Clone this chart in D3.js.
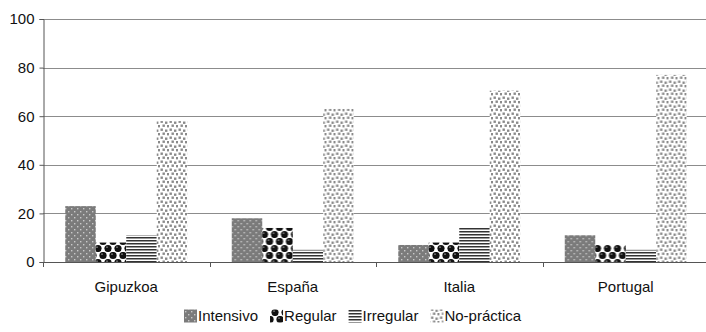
<!DOCTYPE html>
<html>
<head>
<meta charset="utf-8">
<script src="https://cdn.jsdelivr.net/npm/d3@7"></script>
<style>
  html, body { margin: 0; padding: 0; background: #fff; }
  svg { display: block; font-family: "Liberation Sans", Arial, sans-serif; }
</style>
</head>
<body>
<svg id="chart" width="706" height="332"></svg>
<script>
// Practice frequency (%) by region
const categories = ["Gipuzkoa", "España", "Italia", "Portugal"];
const seriesNames = ["Intensivo", "Regular", "Irregular", "No-práctica"];
const intensivo  = [23, 18, 7, 11];
const regular    = [8, 14, 8, 7];
const irregular  = [11, 5, 14, 5];
const noPractica = [58, 63, 70.5, 77];
const yTicks = [0, 20, 40, 60, 80, 100];

const seriesValues = [intensivo, regular, irregular, noPractica];

const W = 706, H = 332;
const margin = { left: 43, top: 19, bottom: 70 };
const plotRight = 709; // plot area runs slightly past the canvas edge
const plotBottom = H - margin.bottom; // 262

const svg = d3.select("#chart");

// ---- fill patterns ----
const defs = svg.append("defs");

// Intensivo: dark grey with light dots
const pInt = defs.append("pattern").attr("id", "pat0")
  .attr("patternUnits", "userSpaceOnUse").attr("width", 6).attr("height", 6);
pInt.append("rect").attr("width", 6).attr("height", 6).attr("fill", "#7b7b7b");
pInt.append("rect").attr("x", 1).attr("y", 1).attr("width", 1.4).attr("height", 1.4).attr("fill", "#c9c9c9");
pInt.append("rect").attr("x", 4).attr("y", 4).attr("width", 1.4).attr("height", 1.4).attr("fill", "#c9c9c9");

// Regular: black balls on white in a staggered grid
const pReg = defs.append("pattern").attr("id", "pat1")
  .attr("patternUnits", "userSpaceOnUse").attr("width", 10).attr("height", 14);
pReg.append("rect").attr("width", 10).attr("height", 14).attr("fill", "#fff");
[[0, 3.5], [10, 3.5], [5, 10.5]].forEach(([cx, cy]) => {
  pReg.append("circle").attr("cx", cx).attr("cy", cy).attr("r", 3.6).attr("fill", "#111");
  pReg.append("circle").attr("cx", cx - 1).attr("cy", cy - 1.3).attr("r", 0.9).attr("fill", "#777");
});

// Irregular: horizontal stripes
const pIrr = defs.append("pattern").attr("id", "pat2")
  .attr("patternUnits", "userSpaceOnUse").attr("width", 6).attr("height", 3);
pIrr.append("rect").attr("width", 6).attr("height", 3).attr("fill", "#fff");
pIrr.append("rect").attr("y", 0).attr("width", 6).attr("height", 1.5).attr("fill", "#333");

// No-práctica: scattered grey squares on white
const pNo = defs.append("pattern").attr("id", "pat3")
  .attr("patternUnits", "userSpaceOnUse").attr("width", 9).attr("height", 8);
pNo.append("rect").attr("width", 9).attr("height", 8).attr("fill", "#fff");
[[0.5, 0.5], [5, 1.5], [2.5, 4.5], [7, 5]].forEach(([x, y]) => {
  pNo.append("rect").attr("x", x).attr("y", y).attr("width", 2.4).attr("height", 2.4).attr("fill", "#8a8a8a");
});

const fills = seriesNames.map((_, i) => `url(#pat${i})`);

// ---- scales ----
const x0 = d3.scaleBand().domain(categories).range([margin.left, plotRight]).paddingInner(0).paddingOuter(0);
const x1 = d3.scaleBand().domain(seriesNames).range([0, x0.bandwidth()]).paddingInner(0).paddingOuter(0.73);
const y = d3.scaleLinear().domain([0, 100]).range([plotBottom, margin.top]);

// ---- gridlines ----
svg.append("g").selectAll("line").data(yTicks.filter(t => t > 0)).join("line")
  .attr("x1", margin.left).attr("x2", plotRight)
  .attr("y1", d => Math.round(y(d)) + 0.5).attr("y2", d => Math.round(y(d)) + 0.5)
  .attr("stroke", "#8c8c8c").attr("stroke-width", 1);

// ---- bars ----
const rows = categories.map((c, ci) => ({ cat: c, vals: seriesNames.map((s, si) => ({ s, si, v: seriesValues[si][ci] })) }));
svg.append("g").selectAll("g").data(rows).join("g")
  .attr("transform", d => `translate(${x0(d.cat)},0)`)
  .selectAll("rect").data(d => d.vals).join("rect")
  .attr("x", d => x1(d.s))
  .attr("width", x1.bandwidth())
  .attr("y", d => y(d.v))
  .attr("height", d => y(0) - y(d.v))
  .attr("fill", d => fills[d.si]);

// ---- axes ----
const yAxis = d3.axisLeft(y).tickValues(yTicks).tickSize(4).tickPadding(5).tickFormat(d3.format("d"));
const gy = svg.append("g").attr("transform", `translate(${margin.left + 0.5},0)`).call(yAxis);
gy.select(".domain").attr("stroke", "#555");
gy.selectAll(".tick line").attr("stroke", "#555");
gy.selectAll(".tick text").attr("font-size", 15).attr("fill", "#111")
  .attr("font-family", "Liberation Sans, Arial, sans-serif");

// x axis: boundary ticks between categories
const boundaries = categories.map(c => x0(c)).concat([plotRight]);
const gx = svg.append("g");
gx.append("line").attr("x1", margin.left).attr("x2", plotRight)
  .attr("y1", plotBottom + 0.5).attr("y2", plotBottom + 0.5).attr("stroke", "#555");
gx.selectAll("line.tk").data(boundaries).join("line").attr("class", "tk")
  .attr("x1", d => Math.round(d) + 0.5).attr("x2", d => Math.round(d) + 0.5)
  .attr("y1", plotBottom).attr("y2", plotBottom + 5).attr("stroke", "#555");
gx.selectAll("text").data(categories).join("text")
  .attr("x", d => x0(d) + x0.bandwidth() / 2)
  .attr("y", plotBottom + 30)
  .attr("text-anchor", "middle").attr("font-size", 15).attr("fill", "#111")
  .text(d => d);

// ---- legend ----
const lg = svg.append("g");
const sw = 13, gapText = 1, gapItem = 12, legendY = 316;
let cx = 0;
const items = seriesNames.map((s, i) => {
  const g = lg.append("g");
  g.append("rect").attr("x", 0).attr("y", -sw / 2).attr("width", sw).attr("height", sw).attr("fill", fills[i]);
  const t = g.append("text").attr("x", sw + gapText).attr("y", 0).attr("dy", "0.35em")
    .attr("font-size", 15).attr("fill", "#111").text(s);
  const w = sw + gapText + t.node().getComputedTextLength();
  g.attr("transform", `translate(${cx},${legendY})`);
  cx += w + gapItem;
  return g;
});
const totalW = cx - gapItem;
lg.attr("transform", `translate(${Math.round(353 - totalW / 2)},0)`);
</script>
</body>
</html>
